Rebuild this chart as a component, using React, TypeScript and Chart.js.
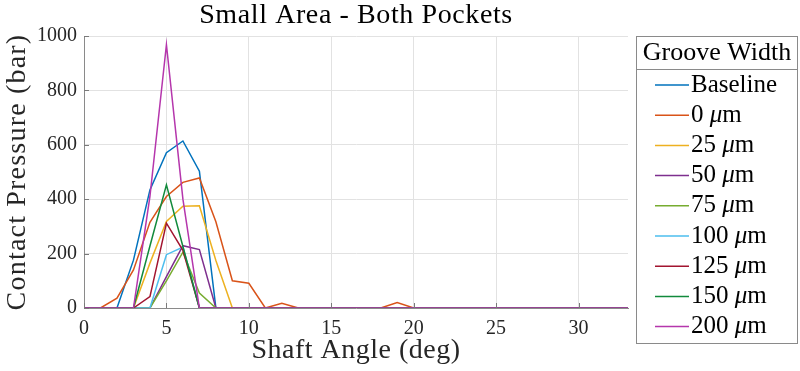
import React, { useEffect, useRef } from "react";
import { Chart, registerables } from "chart.js";

Chart.register(...registerables);

const angles = [0, 1, 2, 3, 4, 5, 6, 7, 8, 9, 10, 11, 12, 13, 14, 15, 16, 17, 18, 19, 20, 21, 22, 23, 24, 25, 26, 27, 28, 29, 30, 31, 32, 33];

const baseline = [0, 0, 0, 176, 434, 571, 614, 503, 0, 0, 0, 0, 0, 0, 0, 0, 0, 0, 0, 0, 0, 0, 0, 0, 0, 0, 0, 0, 0, 0, 0, 0, 0, 0];
const gw0 = [0, 0, 36, 140, 315, 410, 462, 478, 317, 100, 91, 0, 17, 0, 0, 0, 0, 0, 0, 20, 0, 0, 0, 0, 0, 0, 0, 0, 0, 0, 0, 0, 0, 0];
const gw25 = [0, 0, 0, 0, 165, 318, 374, 376, 175, 0, 0, 0, 0, 0, 0, 0, 0, 0, 0, 0, 0, 0, 0, 0, 0, 0, 0, 0, 0, 0, 0, 0, 0, 0];
const gw50 = [0, 0, 0, 0, 0, 115, 229, 215, 0, 0, 0, 0, 0, 0, 0, 0, 0, 0, 0, 0, 0, 0, 0, 0, 0, 0, 0, 0, 0, 0, 0, 0, 0, 0];
const gw75 = [0, 0, 0, 0, 0, 100, 205, 55, 0, 0, 0, 0, 0, 0, 0, 0, 0, 0, 0, 0, 0, 0, 0, 0, 0, 0, 0, 0, 0, 0, 0, 0, 0, 0];
const gw100 = [0, 0, 0, 0, 0, 196, 224, 0, 0, 0, 0, 0, 0, 0, 0, 0, 0, 0, 0, 0, 0, 0, 0, 0, 0, 0, 0, 0, 0, 0, 0, 0, 0, 0];
const gw125 = [0, 0, 0, 0, 42, 312, 212, 0, 0, 0, 0, 0, 0, 0, 0, 0, 0, 0, 0, 0, 0, 0, 0, 0, 0, 0, 0, 0, 0, 0, 0, 0, 0, 0];
const gw150 = [0, 0, 0, 0, 228, 453, 226, 0, 0, 0, 0, 0, 0, 0, 0, 0, 0, 0, 0, 0, 0, 0, 0, 0, 0, 0, 0, 0, 0, 0, 0, 0, 0, 0];
const gw200 = [0, 0, 0, 0, 410, 968, 400, 0, 0, 0, 0, 0, 0, 0, 0, 0, 0, 0, 0, 0, 0, 0, 0, 0, 0, 0, 0, 0, 0, 0, 0, 0, 0, 0];

const seriesValues = [baseline, gw0, gw25, gw50, gw75, gw100, gw125, gw150, gw200];
const seriesLabels = ["Baseline", "0 μm", "25 μm", "50 μm", "75 μm", "100 μm", "125 μm", "150 μm", "200 μm"];
const seriesColors = ["#0072BD", "#D95319", "#EDB120", "#7E2F8E", "#77AC30", "#4DBEEE", "#A2142F", "#128A3C", "#B536AC"];

const xTicks = [0, 5, 10, 15, 20, 25, 30];
const yTicks = [0, 200, 400, 600, 800, 1000];

const titleText = "Small Area - Both Pockets";
const xLabel = "Shaft Angle (deg)";
const yLabel = "Contact Pressure (bar)";
const legendTitle = "Groove Width";

const SERIF = "'Liberation Serif', 'Times New Roman', serif";

const decorPlugin = {
  id: "decor",
  afterDraw(chart: any) {
    const ctx = chart.ctx as any;
    const area = chart.chartArea;
    const xs = chart.scales.x;
    const ys = chart.scales.y;
    ctx.save();

    // inward tick marks
    ctx.strokeStyle = "#7a7a7a";
    ctx.lineWidth = 1;
    ctx.beginPath();
    for (const v of xTicks) {
      const px = Math.round(xs.getPixelForValue(v)) + 0.5;
      ctx.moveTo(px, area.bottom);
      ctx.lineTo(px, area.bottom - 5);
    }
    for (const v of yTicks) {
      const py = Math.round(ys.getPixelForValue(v)) + 0.5;
      ctx.moveTo(area.left, py);
      ctx.lineTo(area.left + 5, py);
    }
    ctx.stroke();

    // title
    ctx.fillStyle = "#000";
    ctx.font = `28px ${SERIF}`;
    ctx.textAlign = "center";
    ctx.textBaseline = "alphabetic";
    ctx.letterSpacing = "0.6px";
    ctx.fillText(titleText, (area.left + area.right) / 2, 23);

    // x label
    ctx.fillStyle = "#262626";
    ctx.letterSpacing = "0.5px";
    ctx.fillText(xLabel, (area.left + area.right) / 2, 358);

    // y label
    ctx.save();
    ctx.letterSpacing = "1.2px";
    ctx.translate(25, (area.top + area.bottom) / 2);
    ctx.rotate(-Math.PI / 2);
    ctx.fillText(yLabel, 0, 0);
    ctx.restore();
    ctx.letterSpacing = "0px";

    // legend
    const lx = 636.5, ly = 36.5, lw = 161, lh = 307;
    ctx.fillStyle = "#fff";
    ctx.fillRect(lx, ly, lw, lh);
    ctx.strokeStyle = "#8a8a8a";
    ctx.lineWidth = 1;
    ctx.strokeRect(lx, ly, lw, lh);
    ctx.beginPath();
    ctx.moveTo(lx, 69.5);
    ctx.lineTo(lx + lw, 69.5);
    ctx.stroke();

    ctx.fillStyle = "#000";
    ctx.font = `26px ${SERIF}`;
    ctx.textAlign = "center";
    ctx.textBaseline = "middle";
    ctx.fillText(legendTitle, lx + lw / 2, 53);

    ctx.textAlign = "left";
    for (let i = 0; i < seriesLabels.length; i++) {
      const cy = 85 + i * 30.2;
      ctx.strokeStyle = seriesColors[i];
      ctx.lineWidth = 1.5;
      ctx.beginPath();
      ctx.moveTo(655, cy);
      ctx.lineTo(689, cy);
      ctx.stroke();
      const label = seriesLabels[i];
      ctx.fillStyle = "#000";
      const m = label.match(/^(\d+) μm$/);
      let tx = 691;
      if (m) {
        ctx.font = `25px ${SERIF}`;
        const num = m[1] + " ";
        ctx.fillText(num, tx, cy);
        tx += ctx.measureText(num).width;
        ctx.font = `italic 25px ${SERIF}`;
        ctx.fillText("μ", tx, cy);
        tx += ctx.measureText("μ").width;
        ctx.font = `25px ${SERIF}`;
        ctx.fillText("m", tx, cy);
      } else {
        ctx.font = `25px ${SERIF}`;
        ctx.fillText(label, tx, cy);
      }
    }
    ctx.restore();
  },
};

export default function App() {
  const canvasRef = useRef<HTMLCanvasElement | null>(null);

  useEffect(() => {
    document.body.style.margin = "0";
    const canvas = canvasRef.current;
    if (!canvas) return;
    const datasets = seriesValues.map((vals, i) => ({
      label: seriesLabels[i],
      data: angles.map((a, j) => ({ x: a, y: vals[j] })),
      borderColor: seriesColors[i],
      backgroundColor: seriesColors[i],
      borderWidth: 1.5,
      pointRadius: 0,
      tension: 0,
      fill: false,
      order: seriesValues.length - i,
    }));
    const chart = new Chart(canvas, {
      type: "line",
      data: { datasets },
      options: {
        animation: false,
        responsive: false,
        maintainAspectRatio: false,
        layout: { padding: { left: 0, right: 172, top: 36, bottom: 0 } },
        plugins: { legend: { display: false }, title: { display: false }, tooltip: { enabled: false } },
        scales: {
          x: {
            type: "linear",
            min: 0,
            max: 33,
            afterBuildTicks: (scale: any) => {
              scale.ticks = xTicks.map((v) => ({ value: v }));
            },
            afterFit: (scale: any) => {
              scale.height = 63;
            },
            ticks: {
              font: { family: SERIF, size: 20 },
              color: "#262626",
              padding: 9,
              maxRotation: 0,
              autoSkip: false,
              callback: (v: any) => String(v),
            },
            grid: { color: "#e2e2e2", drawTicks: false, lineWidth: 1 },
            border: { display: true, color: "#8a8a8a", width: 1 },
          },
          y: {
            type: "linear",
            min: 0,
            max: 1000,
            afterBuildTicks: (scale: any) => {
              scale.ticks = yTicks.map((v) => ({ value: v }));
            },
            afterFit: (scale: any) => {
              scale.width = 84;
            },
            ticks: {
              font: { family: SERIF, size: 20 },
              color: "#262626",
              padding: 7,
              autoSkip: false,
              callback: (v: any) => String(v),
            },
            grid: { color: "#e2e2e2", drawTicks: false, lineWidth: 1 },
            border: { display: true, color: "#8a8a8a", width: 1 },
          },
        },
      },
      plugins: [decorPlugin],
    });
    return () => chart.destroy();
  }, []);

  return (
    <div style={{ width: 800, height: 371, background: "#fff" }}>
      <canvas ref={canvasRef} width={800} height={371} style={{ display: "block", width: 800, height: 371 }} />
    </div>
  );
}
